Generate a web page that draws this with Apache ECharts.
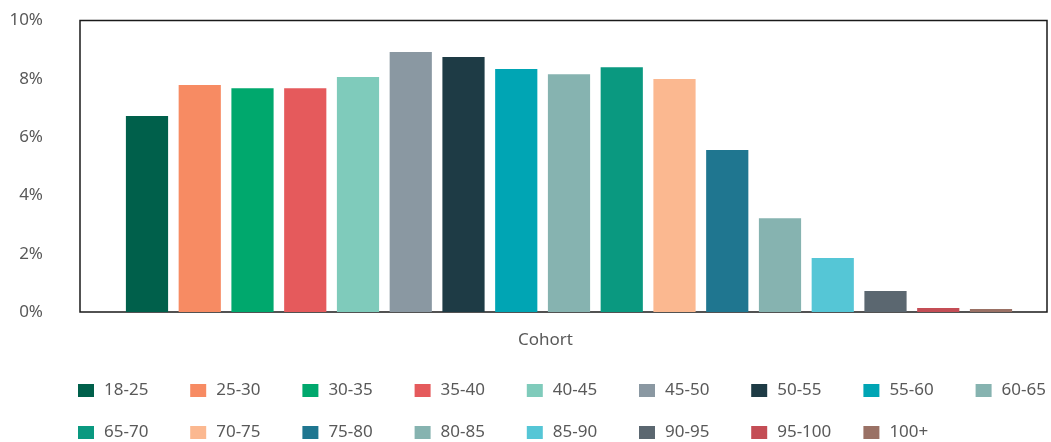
<!DOCTYPE html>
<html>
<head>
<meta charset="utf-8">
<title>Cohort distribution</title>
<script src="https://cdn.jsdelivr.net/npm/echarts@6/dist/echarts.min.js"></script>
<style>
  html, body { margin: 0; padding: 0; background: #ffffff; }
  #chart { width: 1051px; height: 442px; }
</style>
</head>
<body>
<div id="chart"></div>
<script>
// Age cohorts and their share of the population (%)
const cohorts = ['18-25', '25-30', '30-35', '35-40', '40-45', '45-50', '50-55', '55-60', '60-65',
                 '65-70', '70-75', '75-80', '80-85', '85-90', '90-95', '95-100', '100+'];
const shares = [6.72, 7.79, 7.68, 7.68, 8.06, 8.92, 8.75, 8.34, 8.16,
                8.40, 7.99, 5.56, 3.22, 1.85, 0.72, 0.14, 0.10];
const yTicks = [0, 2, 4, 6, 8, 10];
const categoryLabel = ['Cohort'];

const palette = ['#00604b', '#f78b63', '#00a86d', '#e55a5c', '#7fcbbb', '#8a98a2', '#1e3b45', '#00a5b4', '#86b3b0',
                 '#0a9980', '#fbb890', '#1f7690', '#86b3b0', '#55c6d6', '#5b6770', '#c44d55', '#9a7165'];

const font = 'Noto Sans';
const textColor = '#595959';

const series = cohorts.map((name, i) => ({
  name: name,
  type: 'bar',
  xAxisIndex: 1,
  yAxisIndex: 1,
  data: [shares[i]],
  barWidth: 42.2,
  barGap: '25%',
  itemStyle: { color: palette[i] },
  emphasis: { disabled: true }
}));

const legendBase = {
  orient: 'horizontal',
  padding: 0,
  width: 1100,
  itemWidth: 16,
  itemHeight: 13,
  itemGap: 0,
  icon: 'rect',
  selectedMode: false,
  textStyle: {
    fontFamily: font,
    fontSize: 17,
    color: textColor,
    lineHeight: 20,
    width: 86.2,
    padding: [0, 0, 0, 5]
  }
};

const chart = echarts.init(document.getElementById('chart'), null, { renderer: 'canvas' });
chart.setOption({
  animation: false,
  color: palette,
  legend: [
    Object.assign({}, legendBase, { left: 78, top: 380.5, data: cohorts.slice(0, 9) }),
    Object.assign({}, legendBase, { left: 78, top: 422.5, data: cohorts.slice(9) })
  ],
  grid: [
    { left: 80, right: 4, top: 20.5, height: 291.5, show: true, borderColor: '#1a1a1a', borderWidth: 1.5, backgroundColor: 'transparent' },
    { left: 91, right: 4, top: 20.5, height: 291.5 }
  ],
  xAxis: [
    {
      type: 'category', gridIndex: 0, data: categoryLabel,
      axisLine: { show: false }, axisTick: { show: false },
      axisLabel: { fontFamily: font, fontSize: 17, color: textColor, margin: 18, lineHeight: 20, padding: [0, 36, 0, 0] }
    },
    {
      type: 'category', gridIndex: 1, data: categoryLabel,
      axisLine: { show: false }, axisTick: { show: false }, axisLabel: { show: false }
    }
  ],
  yAxis: [
    {
      type: 'value', gridIndex: 0, min: yTicks[0], max: yTicks[yTicks.length - 1], interval: 2,
      splitLine: { show: false }, axisLine: { show: false }, axisTick: { show: false },
      axisLabel: { fontFamily: font, fontSize: 17, color: textColor, margin: 37, formatter: v => v + '%' }
    },
    {
      type: 'value', gridIndex: 1, min: yTicks[0], max: yTicks[yTicks.length - 1], interval: 2,
      show: false, splitLine: { show: false }
    }
  ],
  series: series
});
</script>
</body>
</html>
